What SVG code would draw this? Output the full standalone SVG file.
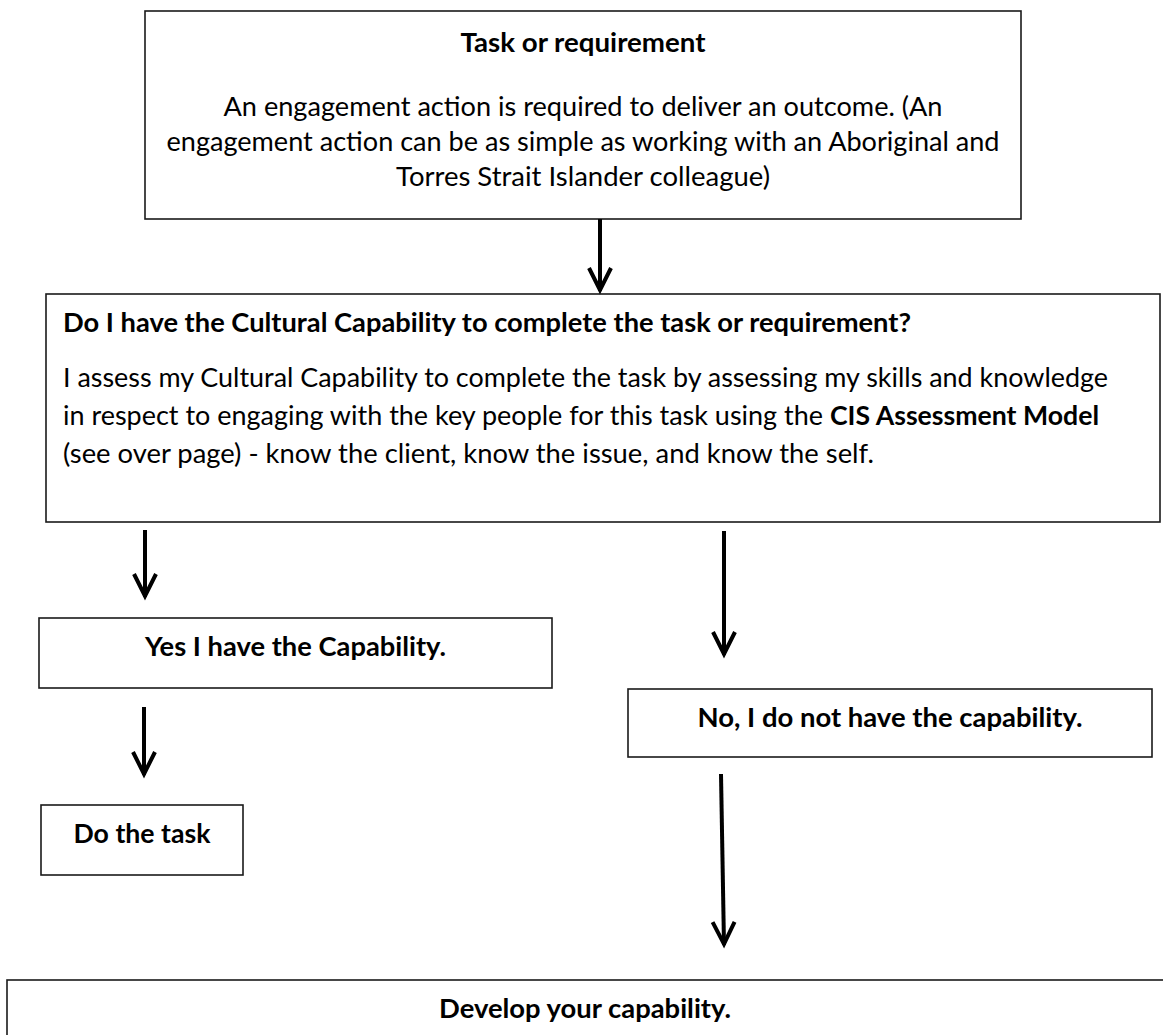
<svg xmlns="http://www.w3.org/2000/svg" width="1163" height="1035" viewBox="0 0 1163 1035">
<style>
.box{fill:#fff;stroke:#1a1a1a;stroke-width:1.6}
.t{font-family:Lato,'Liberation Sans',sans-serif;font-size:26.5px;fill:#000}
.b{font-weight:700}
.m{text-anchor:middle}
.arrow{stroke:#000;stroke-width:4;fill:none;marker-end:url(#ah)}
</style>
<defs>
<marker id="ah" markerUnits="userSpaceOnUse" viewBox="-30 -15 36 30" markerWidth="36" markerHeight="30" refX="0" refY="0" orient="auto">
<path d="M -23 -11 L -1 0 L -23 11" fill="none" stroke="#000" stroke-width="4"/>
</marker>
</defs>
<rect width="1163" height="1035" fill="#fff"/>
<g id="task">
<rect class="box" x="145" y="11" width="876" height="208"/>
<text class="t b m" x="583" y="52" textLength="245" lengthAdjust="spacingAndGlyphs">Task or requirement</text>
<text class="t m" x="583" y="116" textLength="719" lengthAdjust="spacingAndGlyphs">An engagement action is required to deliver an outcome. (An</text>
<text class="t m" x="583" y="151" textLength="833" lengthAdjust="spacingAndGlyphs">engagement action can be as simple as working with an Aboriginal and</text>
<text class="t m" x="583" y="186" textLength="374" lengthAdjust="spacingAndGlyphs">Torres Strait Islander colleague)</text>
</g>
<g id="question">
<rect class="box" x="46" y="294" width="1114" height="228"/>
<text class="t b" x="63" y="332" textLength="848" lengthAdjust="spacingAndGlyphs">Do I have the Cultural Capability to complete the task or requirement?</text>
<text class="t" x="63" y="387" textLength="1045" lengthAdjust="spacingAndGlyphs">I assess my Cultural Capability to complete the task by assessing my skills and knowledge</text>
<text class="t" x="63" y="425" textLength="760" lengthAdjust="spacingAndGlyphs">in respect to engaging with the key people for this task using the</text>
<text class="t b" x="830" y="425" textLength="269" lengthAdjust="spacingAndGlyphs">CIS Assessment Model</text>
<text class="t" x="63" y="463" textLength="811" lengthAdjust="spacingAndGlyphs">(see over page) - know the client, know the issue, and know the self.</text>
</g>
<g id="yes">
<rect class="box" x="39" y="618" width="513" height="70"/>
<text class="t b m" x="295.5" y="656" textLength="301" lengthAdjust="spacingAndGlyphs">Yes I have the Capability.</text>
</g>
<g id="do-task">
<rect class="box" x="41" y="805" width="202" height="70"/>
<text class="t b m" x="142" y="843" textLength="137" lengthAdjust="spacingAndGlyphs">Do the task</text>
</g>
<g id="no">
<rect class="box" x="628" y="689" width="524" height="68"/>
<text class="t b m" x="890" y="727" textLength="385" lengthAdjust="spacingAndGlyphs">No, I do not have the capability.</text>
</g>
<g id="develop">
<rect class="box" x="7" y="980" width="1200" height="100"/>
<text class="t b m" x="585" y="1018" textLength="292" lengthAdjust="spacingAndGlyphs">Develop your capability.</text>
</g>
<g id="connectors">
<path class="arrow" d="M600 219 L600 291"/>
<path class="arrow" d="M145 530 L145 597"/>
<path class="arrow" d="M144 707 L144 775"/>
<path class="arrow" d="M724 531 L724 655"/>
<path class="arrow" d="M721 774 L724 945"/>
</g>
</svg>
